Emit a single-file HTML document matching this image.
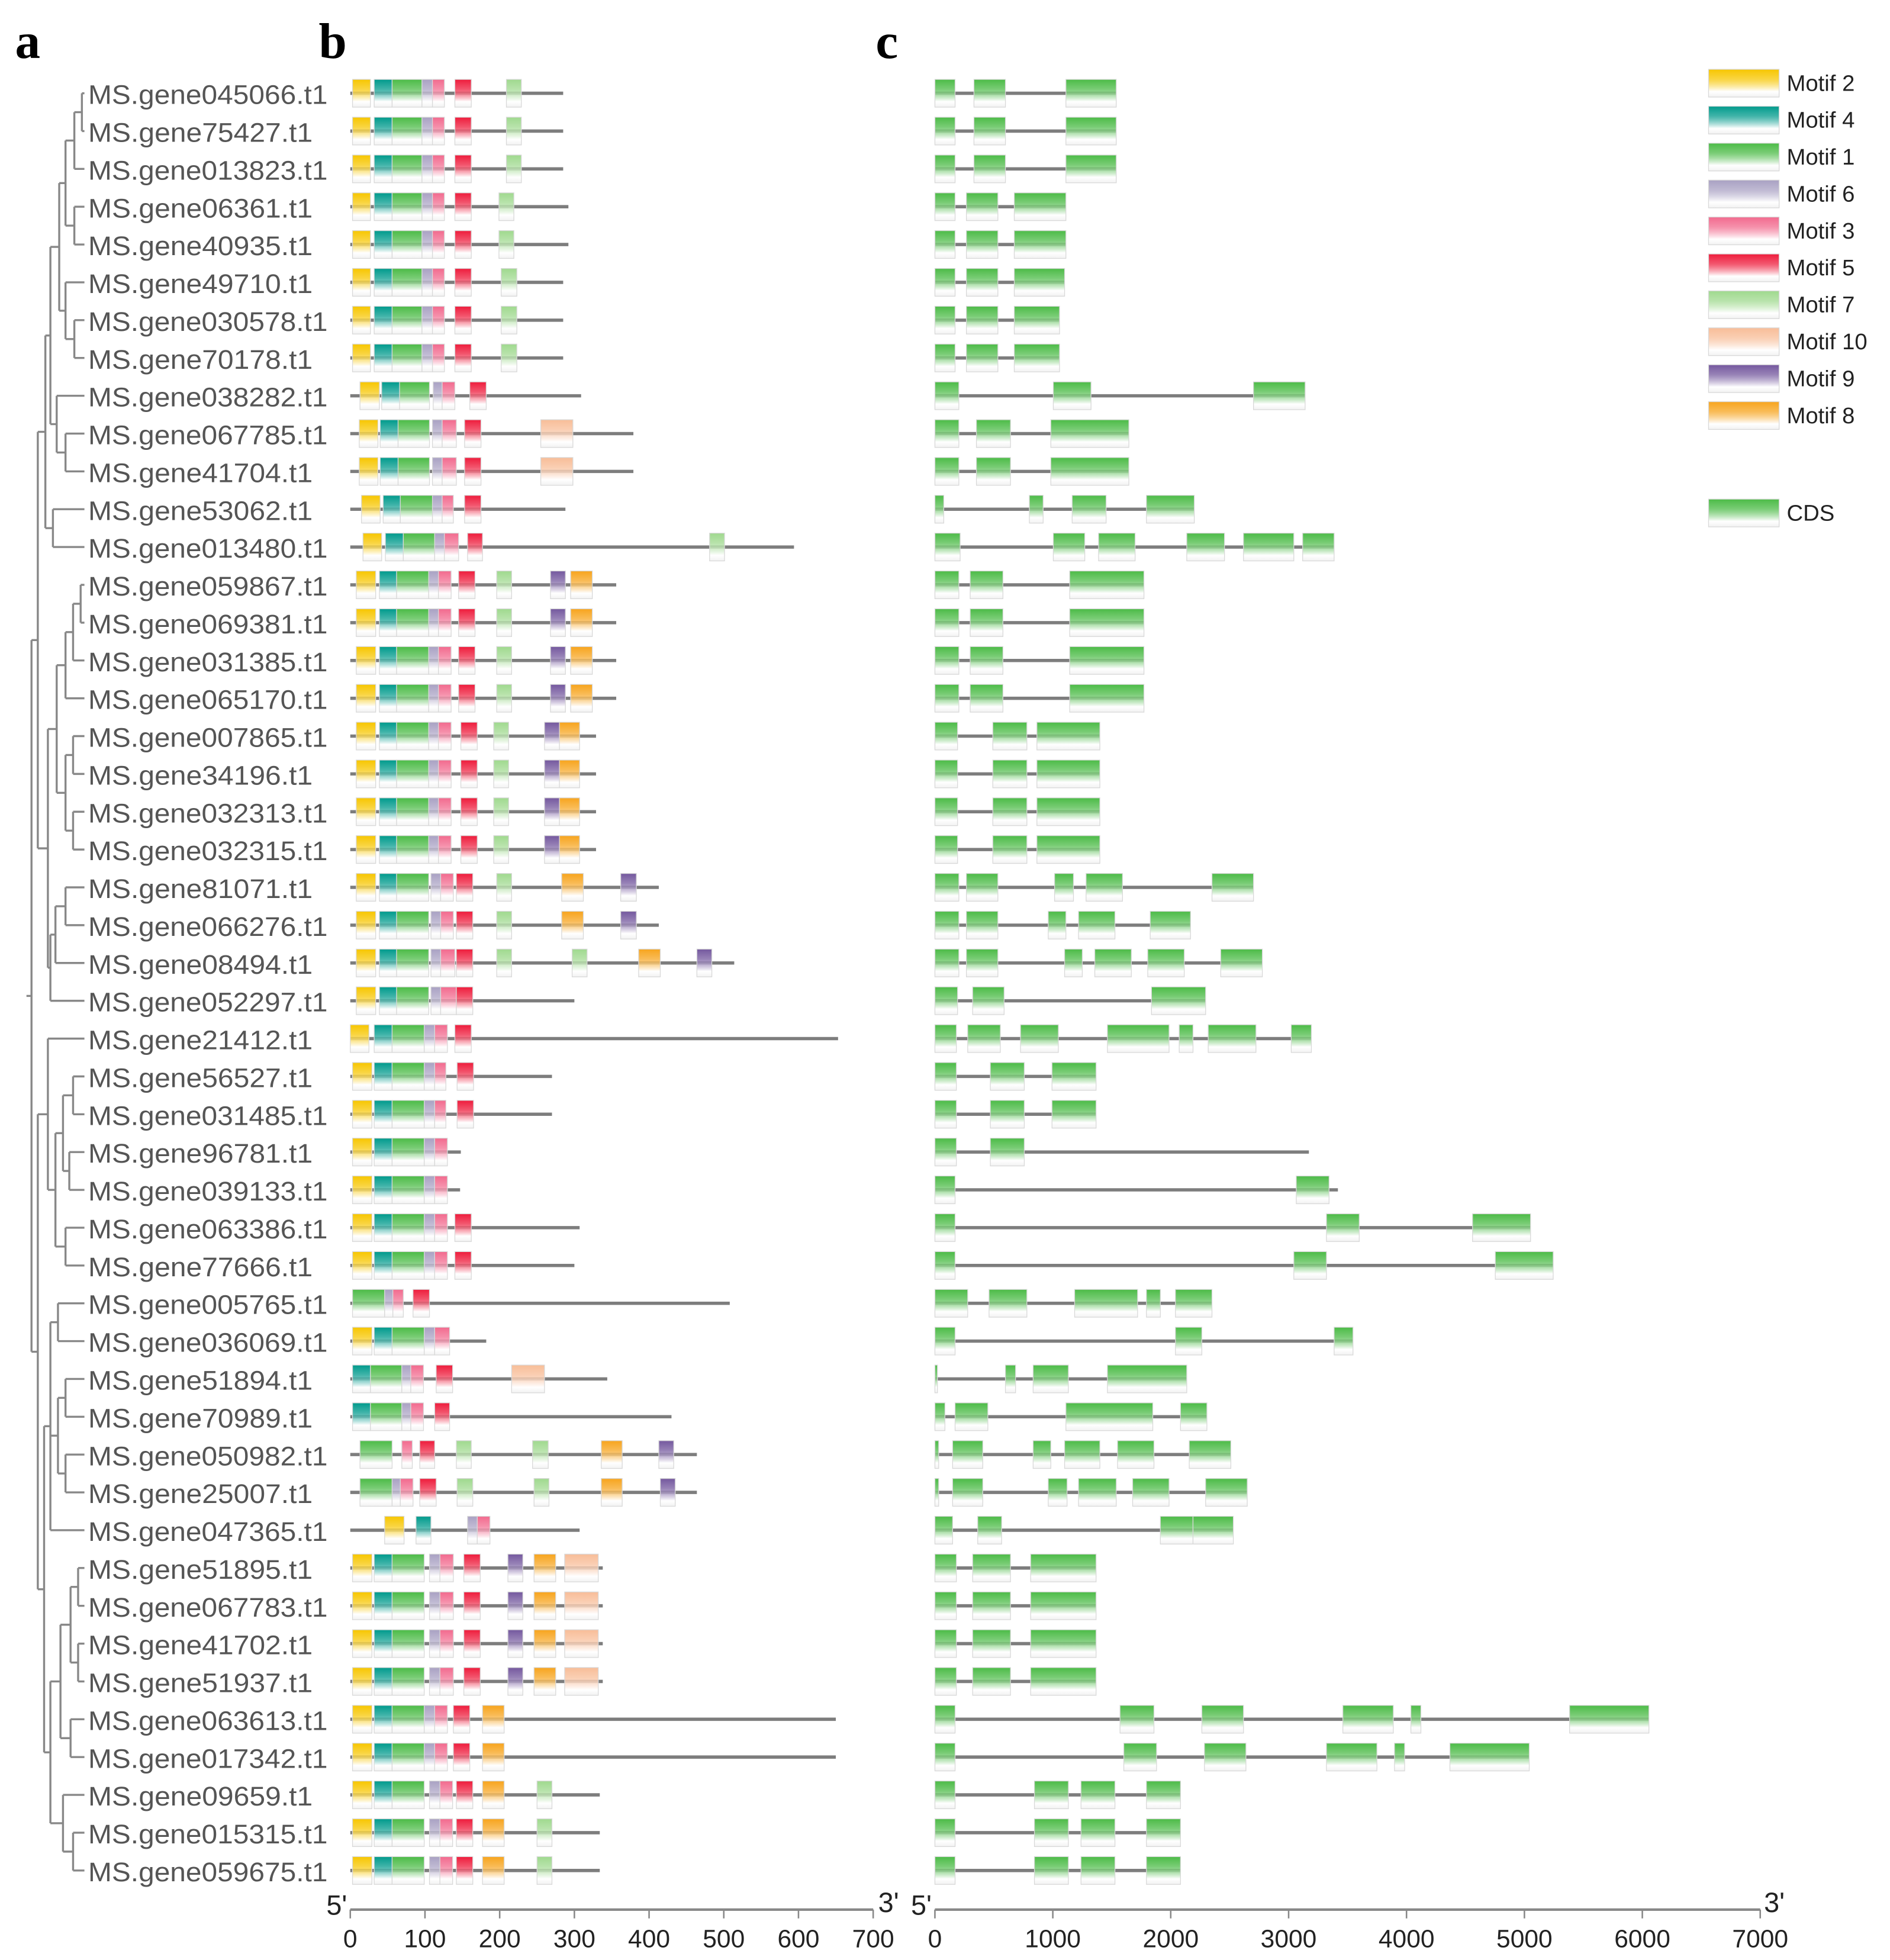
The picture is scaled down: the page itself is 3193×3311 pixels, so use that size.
<!DOCTYPE html>
<html><head><meta charset="utf-8"><style>
html,body{margin:0;padding:0;background:#fff;}
svg{display:block;}
text{font-family:"Liberation Sans",Arial,sans-serif;}
</style></head><body>
<svg id="fig" xmlns="http://www.w3.org/2000/svg" width="3193" height="3311" viewBox="0 0 1500 1555" preserveAspectRatio="none">
<defs id="defs"></defs>
<text x="12" y="46" font-size="40" font-weight="bold" style="font-family:'Liberation Serif',serif">a</text>
<text x="253" y="46" font-size="40" font-weight="bold" style="font-family:'Liberation Serif',serif">b</text>
<text x="695" y="46" font-size="40" font-weight="bold" style="font-family:'Liberation Serif',serif">c</text>
<g id="tree"></g>
<g id="labels"></g>
<g id="motifs"></g>
<g id="genes"></g>
<g id="axes"></g>
<g id="legend"></g>
</svg>
<script>
const geneNames = ["MS.gene045066.t1","MS.gene75427.t1","MS.gene013823.t1","MS.gene06361.t1","MS.gene40935.t1","MS.gene49710.t1","MS.gene030578.t1","MS.gene70178.t1","MS.gene038282.t1","MS.gene067785.t1","MS.gene41704.t1","MS.gene53062.t1","MS.gene013480.t1","MS.gene059867.t1","MS.gene069381.t1","MS.gene031385.t1","MS.gene065170.t1","MS.gene007865.t1","MS.gene34196.t1","MS.gene032313.t1","MS.gene032315.t1","MS.gene81071.t1","MS.gene066276.t1","MS.gene08494.t1","MS.gene052297.t1","MS.gene21412.t1","MS.gene56527.t1","MS.gene031485.t1","MS.gene96781.t1","MS.gene039133.t1","MS.gene063386.t1","MS.gene77666.t1","MS.gene005765.t1","MS.gene036069.t1","MS.gene51894.t1","MS.gene70989.t1","MS.gene050982.t1","MS.gene25007.t1","MS.gene047365.t1","MS.gene51895.t1","MS.gene067783.t1","MS.gene41702.t1","MS.gene51937.t1","MS.gene063613.t1","MS.gene017342.t1","MS.gene09659.t1","MS.gene015315.t1","MS.gene059675.t1"];
const proteinLengths = [285,285,285,292,292,285,285,285,309,379,379,288,594,356,356,356,356,329,329,329,329,413,413,514,300,653,270,270,148,147,307,300,508,182,344,430,464,464,307,338,338,338,338,650,650,334,334,334];
const mA=[[2,3,27],[4,32,56],[1,56,96],[6,96,110],[3,110,126],[5,140,162],[7,209,229]];
const mB=[[2,3,27],[4,32,56],[1,56,96],[6,96,110],[3,110,126],[5,140,162],[7,199,219]];
const mC=[[2,3,27],[4,32,56],[1,56,96],[6,96,110],[3,110,126],[5,140,162],[7,202,223]];
const mD=[[2,12,37],[4,40,64],[1,64,106],[6,110,123],[3,123,142],[5,153,175],[10,255,298]];
const mE=[[2,8,34],[4,39,62],[1,62,105],[6,105,118],[3,118,135],[5,145,167],[7,196,216],[9,268,288],[8,295,324]];
const mF=[[2,8,34],[4,39,62],[1,62,105],[6,105,118],[3,118,135],[5,148,170],[7,192,212],[9,260,280],[8,280,307]];
const mG=[[2,8,34],[4,39,62],[1,62,105],[6,108,121],[3,121,138],[5,142,164],[7,196,216],[8,283,312],[9,362,383]];
const mH=[[2,3,29],[4,32,56],[1,56,99],[6,99,113],[3,113,128],[5,143,165]];
const mI=[[2,3,29],[4,32,56],[1,56,99],[6,99,113],[3,113,130]];
const mJ=[[2,3,29],[4,32,56],[1,56,99],[6,99,113],[3,113,130],[5,140,162]];
const mK=[[2,3,29],[4,32,56],[1,56,99],[6,106,120],[3,120,138],[5,152,174],[9,211,231],[8,246,275],[10,287,332]];
const mL=[[2,3,29],[4,32,56],[1,56,99],[6,99,113],[3,113,130],[5,138,160],[8,177,206]];
const mM=[[2,3,29],[4,32,56],[1,56,99],[6,106,120],[3,120,137],[5,142,164],[8,177,206],[7,250,270]];
const motifSets = [mA,mA,mA,mB,mB,mC,mC,mC,
 [[2,13,39],[4,42,66],[1,66,106],[6,111,123],[3,123,140],[5,160,182]],
 mD,mD,
 [[2,15,40],[4,44,67],[1,67,110],[6,110,123],[3,123,138],[5,153,175]],
 [[2,17,42],[4,47,71],[1,71,113],[6,113,126],[3,126,145],[5,157,177],[7,481,501]],
 mE,mE,mE,mE,mF,mF,mF,mF,mG,mG,
 [[2,8,34],[4,39,62],[1,62,105],[6,108,121],[3,121,140],[5,142,164],[7,196,216],[7,297,317],[8,386,415],[9,464,484]],
 [[2,8,34],[4,39,62],[1,62,105],[6,108,121],[3,121,142],[5,142,164]],
 [[2,0,25],[4,32,56],[1,56,99],[6,99,113],[3,113,130],[5,140,162]],
 mH,mH,mI,mI,mJ,mJ,
 [[1,3,46],[6,46,57],[3,57,71],[5,84,106]],
 [[2,3,29],[4,32,56],[1,56,99],[6,99,113],[3,113,133]],
 [[4,3,27],[1,27,69],[6,69,81],[3,81,98],[5,115,137],[10,216,260]],
 [[4,3,27],[1,27,69],[6,69,81],[3,81,98],[5,113,133]],
 [[1,13,56],[3,69,83],[5,93,113],[7,142,162],[7,244,265],[8,336,364],[9,413,433]],
 [[1,13,56],[6,56,67],[3,67,84],[5,93,115],[7,143,164],[7,246,266],[8,336,364],[9,415,435]],
 [[2,46,72],[4,88,108],[6,157,170],[3,170,187]],
 mK,mK,mK,mK,mL,mL,mM,mM,mM];
const geneLengths = [1538,1538,1538,1111,1111,1100,1057,1057,3140,1645,1645,2200,3386,1773,1773,1773,1773,1399,1399,1399,1399,2702,2168,2777,2296,3193,1367,1367,3172,3418,5052,5244,2350,3546,2136,2307,2510,2649,2531,1367,1367,1367,1367,6056,5041,2083,2083,2083];
const eA=[[0,171],[331,598],[1111,1538]];
const eB=[[0,171],[267,534],[673,1111]];
const eC=[[0,203],[352,641],[983,1645]];
const eD=[[0,203],[299,577],[1143,1773]];
const eE=[[0,192],[491,780],[865,1399]];
const eF=[[0,182],[470,758],[993,1367]];
const eG=[[0,182],[320,641],[812,1367]];
const eH=[[0,171],[844,1132],[1239,1527],[1794,2083]];
const exonSets = [eA,eA,eA,eB,eB,[[0,171],[267,534],[673,1100]],[[0,171],[267,534],[673,1057]],[[0,171],[267,534],[673,1057]],
 [[0,203],[1004,1324],[2702,3140]],eC,eC,
 [[0,75],[801,918],[1164,1452],[1794,2200]],
 [[0,214],[1004,1271],[1388,1698],[2136,2456],[2617,3044],[3119,3386]],
 eD,eD,eD,eD,eE,eE,eE,eE,
 [[0,203],[267,534],[1015,1175],[1282,1591],[2350,2702]],
 [[0,203],[267,534],[961,1111],[1218,1527],[1826,2168]],
 [[0,203],[267,534],[1100,1250],[1356,1666],[1805,2115],[2424,2777]],
 [[0,192],[320,587],[1837,2296]],
 [[0,182],[278,555],[726,1047],[1463,1986],[2072,2189],[2318,2723],[3022,3193]],
 eF,eF,[[0,182],[470,758]],[[0,171],[3065,3343]],
 [[0,171],[3321,3599],[4560,5052]],[[0,171],[3044,3321],[4753,5244]],
 [[0,278],[459,780],[1185,1719],[1794,1912],[2040,2350]],
 [[0,171],[2040,2264],[3386,3546]],
 [[0,20],[598,684],[833,1132],[1463,2136]],
 [[0,85],[171,449],[1111,1848],[2083,2307]],
 [[0,32],[150,406],[833,983],[1100,1399],[1549,1858],[2157,2510]],
 [[0,32],[150,406],[961,1121],[1218,1538],[1677,1986],[2296,2649]],
 [[0,150],[363,566],[1912,2189],[2189,2531]],
 eG,eG,eG,eG,
 [[0,171],[1570,1858],[2264,2617],[3460,3888],[4037,4122],[5383,6056]],
 [[0,171],[1602,1880],[2286,2638],[3321,3749],[3898,3984],[4368,5041]],
 eH,eH,eH];
const motifTickLabels = [0,100,200,300,400,500,600,700];
const geneTickLabels = [0,1000,2000,3000,4000,5000,6000,7000];
const legendMotifs = [2,4,1,6,3,5,7,10,9,8];
const motifColors = {1:"#4cbb47",2:"#f7c600",3:"#f26a8e",4:"#009a8c",5:"#ee1c3c",6:"#a9a1c3",7:"#9fd98e",8:"#f7a41d",9:"#74589e",10:"#f8bd98"};
const treeData = [25,[30,[36,[40,[47,[52,[59,[65,0,1],2],[59,3,4]],[52,5,[59,6,7]]],[45,8,[52,9,10]]],[42,11,12]],[38,[45,[52,[58,[64,13,14],15],16],[52,[58,17,18],[58,19,20]]],[40,[44,[52,21,22],23],24]]],[30,[38,25,[44,[50,[58,26,27],[55,28,29]],[52,30,31]]],[35,[40,[46,32,33],[46,[52,34,35],[52,36,37]],38],[40,[48,[56,[62,39,40],[62,41,42]],[56,43,44]],[50,45,[58,46,47]]]]]];

const NS="http://www.w3.org/2000/svg";
function mk(tag,attrs,parent){const e=document.createElementNS(NS,tag);for(const k in attrs)e.setAttribute(k,attrs[k]);parent.appendChild(e);return e;}
const rowY = i => 74 + i*30.0;
const xB = v => 278 + v*(415/700);
const xC = v => 742 + v*(655/7000);
const defs=document.getElementById('defs');
function grad(id,c){const g=mk('linearGradient',{id:id,x1:0,y1:0,x2:0,y2:1},defs);
 mk('stop',{offset:'0','stop-color':c},g);mk('stop',{offset:'0.35','stop-color':c,'stop-opacity':'0.75'},g);mk('stop',{offset:'0.8','stop-color':'#fff'},g);mk('stop',{offset:'1','stop-color':'#f2f2f2'},g);}
for(const k in motifColors) grad('g'+k,motifColors[k]);
grad('gcds','#4cbb47');

// tree
const tree=document.getElementById('tree');
function drawNode(n){
 if(typeof n==='number'){return {y:rowY(n)};}
 const x=n[0];const ys=[];
 for(let i=1;i<n.length;i++){const c=n[i];const r=drawNode(c);const cx=(typeof c==='number')?67:c[0];
  const l=mk('line',{x1:x,y1:r.y,x2:cx,y2:r.y,stroke:'#888','stroke-width':1.6},tree);
  
  
  ys.push(r.y);}
 const v=mk('line',{x1:x,y1:Math.min(...ys),x2:x,y2:Math.max(...ys),stroke:'#888','stroke-width':1.6},tree);
 
 
 return {y:(Math.min(...ys)+Math.max(...ys))/2};
}
const rr=drawNode(treeData);
const rl=mk('line',{x1:21,y1:rr.y,x2:25,y2:rr.y,stroke:'#888','stroke-width':1.6},tree);



const labels=document.getElementById('labels');
const motifsG=document.getElementById('motifs');
const genesG=document.getElementById('genes');
geneNames.forEach((nm,i)=>{
 const y=rowY(i);
 const t=mk('text',{x:70,y:y+8.5,'font-size':21.5,fill:'#555','textLength':190,'lengthAdjust':'spacingAndGlyphs'},labels);
 t.textContent=nm;
 
 
 if(nm.length<16){t.setAttribute('textLength',String(190*nm.length/16));}
 const ln=mk('line',{x1:xB(0),y1:y,x2:xB(proteinLengths[i]),y2:y,stroke:'#7d7d7d','stroke-width':2.6},motifsG);
 
 
 motifSets[i].forEach(m=>{
  const r=mk('rect',{x:xB(m[1]),y:y-11,width:Math.max(2,xB(m[2])-xB(m[1])),height:22,fill:'url(#g'+m[0]+')',stroke:'#d8d8d8','stroke-width':0.6},motifsG);
  
  
 });
 const gl=mk('line',{x1:xC(0),y1:y,x2:xC(geneLengths[i]),y2:y,stroke:'#7d7d7d','stroke-width':2.6},genesG);
 
 
 exonSets[i].forEach(e=>{
  const r=mk('rect',{x:xC(e[0]),y:y-11,width:Math.max(2,xC(e[1])-xC(e[0])),height:22,fill:'url(#gcds)',stroke:'#d8d8d8','stroke-width':0.6},genesG);
  
  
 });
});

// axes
const axes=document.getElementById('axes');
function axis(sc,ticks,lbl,x5,x3){
 const ay=1515;
 const a=mk('line',{x1:sc(ticks[0]),y1:ay,x2:sc(ticks[ticks.length-1]),y2:ay,stroke:'#888','stroke-width':2},axes);
 
 
 ticks.forEach(v=>{
  const tk=mk('line',{x1:sc(v),y1:ay,x2:sc(v),y2:ay+7,stroke:'#888','stroke-width':1.2},axes);
  
  
  const tt=mk('text',{x:sc(v),y:ay+30,'font-size':20,'text-anchor':'middle',fill:'#222'},axes);
  tt.textContent=v;
  
  
 });
 const a5=mk('text',{x:x5,y:ay+4,'font-size':22,fill:'#222'},axes);a5.textContent="5'";
 
 
 const a3=mk('text',{x:x3,y:ay+2,'font-size':22,fill:'#222'},axes);a3.textContent="3'";
 
 
}
axis(xB,motifTickLabels,'motif',259,697);
axis(xC,geneTickLabels,'gene',723,1400);

// legend
const leg=document.getElementById('legend');
legendMotifs.forEach((m,i)=>{
 const y=66+i*29.3;
 const r=mk('rect',{x:1356,y:y-11,width:56,height:22,fill:'url(#g'+m+')',stroke:'#d8d8d8','stroke-width':0.6},leg);
 
 
 const t=mk('text',{x:1418,y:y+6,'font-size':18,fill:'#222'},leg);
 t.textContent='Motif '+m;
 
 
});
const cr=mk('rect',{x:1356,y:396,width:56,height:22,fill:'url(#gcds)',stroke:'#d8d8d8','stroke-width':0.6},leg);


const ct=mk('text',{x:1418,y:413,'font-size':18,fill:'#222'},leg);ct.textContent='CDS';


</script>
</body></html>
